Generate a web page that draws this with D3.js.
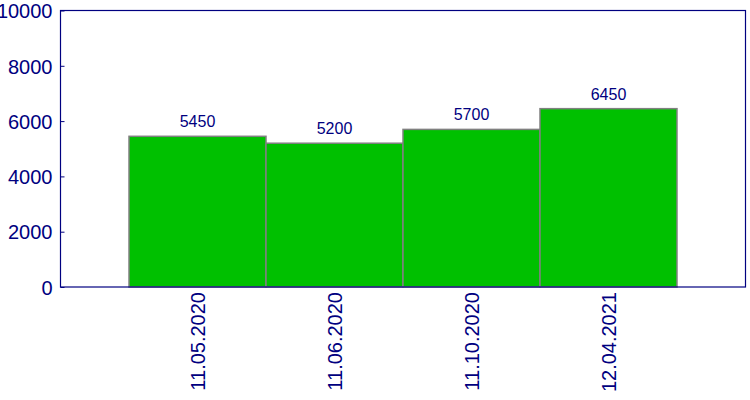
<!DOCTYPE html>
<html>
<head>
<meta charset="utf-8">
<script src="https://cdn.jsdelivr.net/npm/d3@7"></script>
<style>
  body { margin: 0; background: #fff; }
  text { font-family: "Liberation Sans", Arial, sans-serif; fill: #000080; }
</style>
</head>
<body>
<script>
var categories = ["11.05.2020", "11.06.2020", "11.10.2020", "12.04.2021"];
var values = [5450, 5200, 5700, 6450];
var yTicks = [0, 2000, 4000, 6000, 8000, 10000];

var margin = {top: 10.5, right: 4.5, bottom: 113, left: 60.5};
var widthContainer = 750, heightContainer = 400;
var w = widthContainer - margin.left - margin.right;
var h = heightContainer - margin.top - margin.bottom;

var svg = d3.select("body")
        .append("svg")
        .attr("width", widthContainer)
        .attr("height", heightContainer)
        .append("g")
        .attr("transform", "translate(" + margin.left + "," + margin.top + ")");

var x = d3.scaleBand()
        .domain(categories)
        .range([0, w])
        .paddingInner(0)
        .paddingOuter(0.5);

var y = d3.scaleLinear()
        .domain([0, 10000])
        .range([h, 0]);

// bars
svg.selectAll("rect.bar")
    .data(values)
    .enter()
    .append("rect")
        .attr("class", "bar")
        .attr("x", function(d, i) { return x(categories[i]); })
        .attr("y", function(d) { return y(d); })
        .attr("width", x.bandwidth())
        .attr("height", function(d) { return h - y(d); })
        .style("fill", "#00c000")
        .style("stroke", "#808080")
        .style("stroke-width", 1.5);

// value labels
svg.selectAll("text.val")
    .data(values)
    .enter()
    .append("text")
        .attr("class", "val")
        .attr("x", function(d, i) { return x(categories[i]) + x.bandwidth() / 2; })
        .attr("y", function(d) { return y(d) - 9; })
        .attr("text-anchor", "middle")
        .style("font-size", "16px")
        .text(function(d) { return d; });

// frame
svg.append("rect")
    .attr("width", w)
    .attr("height", h)
    .style("fill", "none")
    .style("stroke", "#000080")
    .style("stroke-width", 1.2);

// y axis
var yAxis = svg.append("g")
    .call(d3.axisLeft(y).tickValues(yTicks).tickFormat(d3.format("d"))
        .tickSizeInner(-4).tickSizeOuter(0).tickPadding(8));
yAxis.select(".domain").remove();
yAxis.selectAll("line").style("stroke", "#000080");
yAxis.selectAll("text")
    .style("font-size", "20px")
    .style("fill", "#000080")
    .attr("font-family", null)
    .attr("dy", "0.36em");

// x axis labels
var xAxis = svg.append("g")
    .attr("transform", "translate(0," + h + ")")
    .call(d3.axisBottom(x).tickSize(0));
xAxis.select(".domain").remove();
xAxis.selectAll("text")
    .style("font-size", "20px")
    .style("fill", "#000080")
    .attr("font-family", null)
    .attr("text-anchor", "end")
    .attr("transform", "rotate(-90)")
    .attr("x", -5)
    .attr("y", 0)
    .attr("dy", "0.35em");
</script>
</body>
</html>
